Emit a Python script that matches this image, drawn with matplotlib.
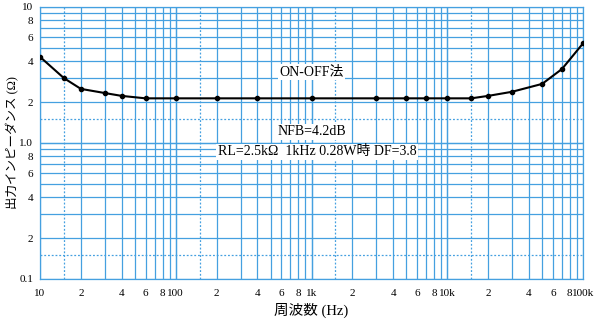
import matplotlib
matplotlib.use("Agg")
import matplotlib.pyplot as plt
from matplotlib.ticker import FixedLocator, FixedFormatter, NullFormatter

# ---- data ----
freq = [10, 15, 20, 30, 40, 60, 100, 200, 400, 1000, 3000, 5000, 7000,
        10000, 15000, 20000, 30000, 50000, 70000, 100000]
impedance = [4.3, 3.0, 2.5, 2.33, 2.22, 2.13, 2.13, 2.13, 2.13, 2.13, 2.13,
             2.13, 2.13, 2.13, 2.13, 2.22, 2.38, 2.72, 3.5, 5.4]

xtick_vals = [10, 20, 40, 60, 80, 100, 200, 400, 600, 800, 1000, 2000, 4000,
              6000, 8000, 10000, 20000, 40000, 60000, 80000, 100000]
xtick_labels = ["10", "2", "4", "6", "8", "100", "2", "4", "6", "8", "1k",
                "2", "4", "6", "8", "10k", "2", "4", "6", "8", "100k"]
ytick_vals = [0.1, 0.2, 0.4, 0.6, 0.8, 1.0, 2, 4, 6, 8, 10]
ytick_labels = ["0.1", "2", "4", "6", "8", "1.0", "2", "4", "6", "8", "10"]

title_text = "ON-OFF法"
note1 = "NFB=4.2dB"
note2 = "RL=2.5kΩ  1kHz 0.28W時 DF=3.8"
xlabel = "周波数 (Hz)"
ylabel = "出力インピーダンス (Ω)"

FAM = ["Liberation Serif", "Noto Sans CJK JP", "DejaVu Sans"]
plt.rcParams["font.family"] = FAM

GRID = "#45a0e0"

fig = plt.figure(figsize=(6, 3.2), dpi=100)
ax = fig.add_axes([40/600, 1-279/320, 543/600, 272/320])
ax.set_xscale("log")
ax.set_yscale("log")
ax.set_xlim(10, 100000)
ax.set_ylim(0.1, 10)

# grid lines
decades_x = [10, 100, 1000, 10000]
minor_x = [d*m for d in decades_x for m in range(1, 11)]
decades_y = [0.1, 1.0]
minor_y = [d*m for d in decades_y for m in range(1, 11)]
for v in minor_x:
    ax.axvline(v, color=GRID, lw=0.9, zorder=1)
for v in minor_y:
    ax.axhline(v, color=GRID, lw=0.9, zorder=1)
for d in decades_x:
    ax.axvline(d*1.5, color=GRID, lw=0.9, ls=(0, (1.5, 1.5)), zorder=1)
for d in decades_y:
    ax.axhline(d*1.5, color=GRID, lw=0.9, ls=(0, (1.5, 1.5)), zorder=1)

for s in ax.spines.values():
    s.set_color(GRID)
    s.set_linewidth(0.9)

ax.xaxis.set_major_locator(FixedLocator(xtick_vals))
ax.xaxis.set_major_formatter(FixedFormatter(xtick_labels))
ax.xaxis.set_minor_formatter(NullFormatter())
ax.yaxis.set_major_locator(FixedLocator(ytick_vals))
ax.yaxis.set_major_formatter(FixedFormatter(ytick_labels))
ax.yaxis.set_minor_formatter(NullFormatter())
ax.tick_params(which="both", length=0)
ax.tick_params(axis="x", pad=7, labelsize=8)
ax.tick_params(axis="y", pad=5, labelsize=8)

ax.plot(freq, impedance, color="black", lw=1.5, marker="o", ms=3,
        zorder=5)

box = dict(facecolor="white", edgecolor="none", pad=1.0)
ax.text(1000, 3.33, title_text, ha="center", va="center", fontsize=10,
        bbox=box, zorder=6)
ax.text(1000, 1.205, note1, ha="center", va="center", fontsize=10,
        bbox=box, zorder=6)
ax.text(1100, 0.86, note2, ha="center", va="center", fontsize=10,
        bbox=box, zorder=6)

fig.text(311/600, 1-310/320, xlabel, ha="center", va="center", fontsize=10.5)
fig.text(13/600, 1-143/320, ylabel, ha="center", va="center", fontsize=9,
         rotation=90)

fig.savefig("out.png", dpi=100)
